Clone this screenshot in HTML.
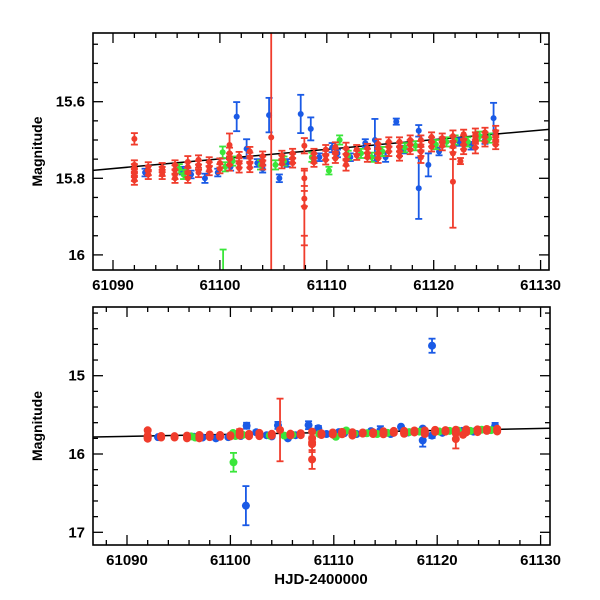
<!DOCTYPE html>
<html><head><meta charset="utf-8"><style>
html,body{margin:0;padding:0;background:#fff;}
svg{display:block;}
text{font-family:"Liberation Sans",sans-serif;font-weight:bold;fill:#000;}
</style></head><body>
<svg id="chart" width="600" height="600" viewBox="0 0 600 600" xmlns="http://www.w3.org/2000/svg"></svg>
<script>
// ---- data: [time, magnitude, error] ----
const redT = [61092,61092,61092,61092,61092,61092,61093.3,61093.3,61093.3,61094.6,61094.6,61094.6,61095.8,61095.8,61095.8,61095.8,61097,61097,61097,61097,61098,61098,61098,61099,61099,61099,61100,61100,61100.9,61100.9,61100.9,61100.9,61101.8,61101.8,61101.8,61102.8,61102.8,61102.8,61102.8,61104,61104,61104,61104.8,61105.8,61105.8,61105.8,61106.8,61106.8,61106.8,61107.9,61107.9,61107.9,61107.9,61107.9,61108.8,61108.8,61108.8,61109.9,61109.9,61109.9,61110.8,61110.8,61110.8,61111.8,61111.8,61111.8,61111.8,61112.8,61112.8,61113.8,61113.8,61113.8,61114.8,61114.8,61114.8,61114.8,61115.8,61115.8,61115.8,61116.8,61116.8,61116.8,61116.8,61117.8,61117.8,61117.8,61118.8,61118.8,61118.8,61118.8,61119.8,61119.8,61119.8,61120.8,61120.8,61120.8,61121.8,61121.8,61121.8,61121.8,61121.8,61122.5,61122.8,61122.8,61122.8,61122.8,61123.9,61123.9,61123.9,61123.9,61124.8,61124.8,61124.8,61125.8,61125.8,61125.8,61125.8];
const redM = [15.697,15.765,15.775,15.785,15.795,15.805,15.770,15.780,15.790,15.772,15.782,15.790,15.765,15.778,15.790,15.800,15.757,15.770,15.785,15.800,15.752,15.766,15.785,15.757,15.770,15.780,15.760,15.775,15.713,15.735,15.750,15.765,15.743,15.760,15.773,15.730,15.745,15.760,15.772,15.742,15.755,15.765,15.693,15.740,15.752,15.762,15.735,15.748,15.760,15.715,15.800,15.853,15.875,16.070,15.735,15.748,15.758,15.725,15.740,15.752,15.718,15.735,15.748,15.722,15.738,15.752,15.765,15.725,15.740,15.722,15.735,15.745,15.710,15.722,15.735,15.748,15.705,15.718,15.730,15.705,15.718,15.730,15.742,15.700,15.712,15.725,15.700,15.715,15.730,15.745,15.692,15.705,15.718,15.695,15.705,15.715,15.690,15.705,15.717,15.735,15.809,15.755,15.685,15.700,15.712,15.725,15.685,15.695,15.705,15.720,15.680,15.692,15.705,15.678,15.690,15.700,15.712];
const redE = [0.015,0.012,0.012,0.012,0.012,0.012,0.012,0.012,0.012,0.012,0.012,0.012,0.012,0.012,0.012,0.012,0.015,0.012,0.012,0.012,0.012,0.012,0.012,0.012,0.012,0.012,0.012,0.012,0.03,0.015,0.015,0.015,0.012,0.012,0.012,0.012,0.012,0.012,0.012,0.012,0.012,0.012,0.40,0.012,0.012,0.012,0.012,0.012,0.012,0.02,0.02,0.02,0.10,0.12,0.012,0.012,0.012,0.012,0.012,0.012,0.012,0.012,0.012,0.015,0.015,0.015,0.015,0.012,0.012,0.012,0.012,0.012,0.012,0.012,0.012,0.012,0.012,0.012,0.012,0.012,0.012,0.012,0.012,0.012,0.012,0.012,0.012,0.012,0.012,0.015,0.012,0.012,0.012,0.012,0.012,0.012,0.015,0.015,0.015,0.015,0.12,0.008,0.012,0.012,0.012,0.012,0.015,0.015,0.015,0.015,0.012,0.012,0.012,0.015,0.015,0.012,0.012];

const blueT = [61093,61096.5,61097.3,61098.6,61099.8,61101,61101.57,61102.5,61103.5,61104,61104.6,61105.56,61106.3,61107.56,61108.5,61109.3,61110.5,61111,61112.2,61113.6,61114.5,61115.5,61116.5,61117.2,61118.6,61118.6,61119.5,61119.5,61120.5,61122.4,61123.5,61124.8,61125.6,61101.5];
const blueM = [15.785,15.780,15.790,15.800,15.785,15.770,15.639,15.723,15.760,15.775,15.635,15.800,15.760,15.632,15.671,15.745,15.720,15.735,15.745,15.708,15.700,15.745,15.652,15.725,15.676,15.826,15.765,14.617,15.730,15.705,15.715,15.700,15.643,16.660];
const blueE = [0.01,0.01,0.01,0.012,0.01,0.01,0.038,0.025,0.01,0.01,0.045,0.01,0.01,0.05,0.03,0.01,0.012,0.01,0.01,0.01,0.055,0.012,0.008,0.01,0.015,0.08,0.03,0.09,0.01,0.01,0.01,0.01,0.04,0.25];

const greenT = [61096.2,61096.6,61100.26,61100.5,61101.2,61103.8,61105.2,61106,61108.6,61110.2,61111.2,61112,61113.2,61114.2,61115.2,61117.3,61118.3,61120.2,61121.2,61122,61123.2,61124.3,61125.2,61100.3];
const greenM = [15.775,15.790,15.732,15.770,15.755,15.765,15.765,15.755,15.745,15.780,15.700,15.740,15.735,15.745,15.730,15.720,15.715,15.712,15.705,15.700,15.705,15.690,15.695,16.106];
const greenE = [0.012,0.012,0.015,0.012,0.012,0.012,0.012,0.012,0.012,0.01,0.012,0.012,0.012,0.012,0.012,0.012,0.012,0.012,0.012,0.012,0.012,0.012,0.012,0.12];

const fitT = [61080, 61140];
const fitM = [15.7996, 15.6490];
const topYTicks = ["15.6","15.8","16"];
const botYTicks = ["15","16","17"];
const xTicks = ["61090","61100","61110","61120","61130"];

// ---- layout ----
const NS="http://www.w3.org/2000/svg";
const svg=document.getElementById('chart');
function el(tag,attrs,parent){const e=document.createElementNS(NS,tag);for(const k in attrs)e.setAttribute(k,attrs[k]);(parent||svg).appendChild(e);return e;}

const panels=[
 {name:'top',L:93,R:549,T:33,B:270,x0:61090,xs:10.69,xp0:113,y0:15.6,ys:383,yp0:101.7,
  yMin:15.4,yMax:16.05,yMinor:0.05,yMajorEvery:4,yTicks:topYTicks,r:3,cap:3.5,sw:1.8},
 {name:'bottom',L:93,R:550,T:307,B:545,x0:61090,xs:10.34,xp0:127,y0:15,ys:78.3,yp0:375.7,
  yMin:14.0,yMax:17.2,yMinor:0.2,yMajorEvery:5,yTicks:botYTicks,r:4,cap:3.5,sw:1.8}
];
const colors={red:'#f03c2c',blue:'#1a5ae6',green:'#3ae63a'};

let clipId=0;
panels.forEach(p=>{
  const X=t=>p.xp0+(t-p.x0)*p.xs;
  const Y=m=>p.yp0+(m-p.y0)*p.ys;
  const g=el('g',{});
  
  
  const cid='clip'+(clipId++);
  const defs=el('defs',{},g);
  const cp=el('clipPath',{id:cid},defs);
  el('rect',{x:p.L,y:p.T,width:p.R-p.L,height:p.B-p.T},cp);
  const plot=el('g',{'clip-path':'url(#'+cid+')'},g);
  
  
  const fl=el('line',{x1:X(fitT[0]),y1:Y(fitM[0]),x2:X(fitT[1]),y2:Y(fitM[1]),stroke:'#000','stroke-width':1.5},plot);
  
  
  const series=[['blue',blueT,blueM,blueE],['green',greenT,greenM,greenE],['red',redT,redM,redE]];
  series.forEach(([c,T,M,E])=>{
    const sg=el('g',{},plot);
    
    
    for(let i=0;i<T.length;i++){
      const x=X(T[i]),y=Y(M[i]),y1=Y(M[i]-E[i]),y2=Y(M[i]+E[i]);
      const pg=el('g',{stroke:colors[c],fill:colors[c],'stroke-width':p.sw},sg);
      
      
      el('line',{x1:x,y1:y1,x2:x,y2:y2},pg);
      el('line',{x1:x-p.cap,y1:y1,x2:x+p.cap,y2:y1},pg);
      el('line',{x1:x-p.cap,y1:y2,x2:x+p.cap,y2:y2},pg);
      el('circle',{cx:x,cy:y,r:p.r,stroke:'none'},pg);
    }
  });
  const fr=el('rect',{x:p.L,y:p.T,width:p.R-p.L,height:p.B-p.T,fill:'none',stroke:'#000','stroke-width':1.6},g);
  
  
  for(let t=61080;t<=61140;t+=2){
    const x=X(t); if(x<p.L+1||x>p.R-1) continue;
    const major=(t%10===0); const len=major?10:5;
    el('line',{x1:x,y1:p.B,x2:x,y2:p.B-len,stroke:'#000','stroke-width':1.3},g);
    el('line',{x1:x,y1:p.T,x2:x,y2:p.T+len,stroke:'#000','stroke-width':1.3},g);
  }
  xTicks.forEach(s=>{
    const tx=el('text',{x:X(+s),y:p.B+20,'text-anchor':'middle','font-size':15},g);
    tx.textContent=s;
    
    
  });
  for(let m=p.y0-20*p.yMinor*p.yMajorEvery;m<=p.yMax+1e-9;m+=p.yMinor){
    const y=Y(m); if(y<p.T+1||y>p.B-1) continue;
    const major=(Math.round((m-p.y0)/p.yMinor)%p.yMajorEvery===0); const len=major?10:5;
    el('line',{x1:p.L,y1:y,x2:p.L+len,y2:y,stroke:'#000','stroke-width':1.3},g);
    el('line',{x1:p.R,y1:y,x2:p.R-len,y2:y,stroke:'#000','stroke-width':1.3},g);
  }
  p.yTicks.forEach(s=>{
    const ty=el('text',{x:p.L-8,y:Y(+s)+5,'text-anchor':'end','font-size':15},g);
    ty.textContent=s;
    
    
  });
  const yc=(p.T+p.B)/2;
  const yt=el('text',{x:0,y:0,'text-anchor':'middle','font-size':14,transform:'translate(42,'+yc+') rotate(-90)'},g);
  yt.textContent='Magnitude';
  
  
});
const xt=el('text',{x:321,y:584,'text-anchor':'middle','font-size':15,'font-family':'Liberation Mono, monospace'});
xt.textContent='HJD-2400000';


</script>
</body></html>
